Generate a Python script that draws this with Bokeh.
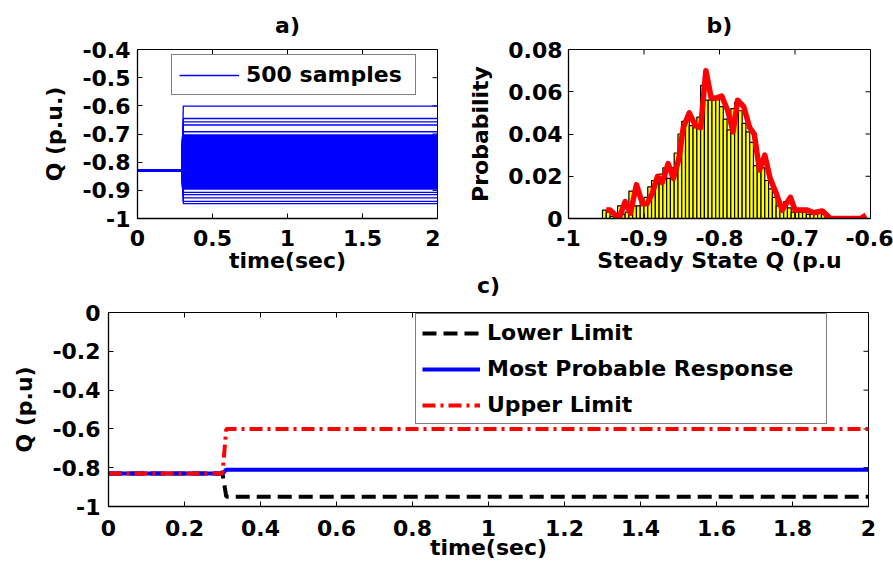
import numpy as np
from bokeh.plotting import figure
from bokeh.layouts import column, row
from bokeh.models import (FixedTicker, CustomJSTickFormatter, Range1d,
                          Legend, LegendItem)
from bokeh.embed import file_html
from bokeh.resources import INLINE

FONT = "DejaVu Sans"
FS = "22px"

# ---------------- data: panel a ----------------
a_t = [0.0, 0.3, 0.305, 2.0]
a_q_initial = -0.83
a_q_outer = [-0.601, -0.645, -0.657, -0.668, -0.692, -0.704,
             -0.907, -0.915, -0.927, -0.939, -0.947]
a_xticks = [0, 0.5, 1, 1.5, 2]
a_yticks = [-1, -0.9, -0.8, -0.7, -0.6, -0.5, -0.4]

# ---------------- data: panel b ----------------
hist_start = -0.955
hist_width = 0.005
hist_prob = [0.004, 0.003, 0.001, 0.0, 0.006, 0.002, 0.003, 0.013, 0.006, 0.006,
             0.007, 0.010, 0.015, 0.018, 0.017, 0.021, 0.024, 0.019, 0.024, 0.031,
             0.040, 0.046, 0.047, 0.044, 0.043, 0.048, 0.063, 0.056, 0.056, 0.056,
             0.057, 0.053, 0.047, 0.042, 0.052, 0.055, 0.051, 0.045, 0.041, 0.036,
             0.025, 0.027, 0.024, 0.018, 0.014, 0.010, 0.006, 0.005, 0.008, 0.005,
             0.003, 0.003, 0.003, 0.003, 0.002, 0.002, 0.002, 0.003, 0.002, 0.001]
pdf_q = [-0.950, -0.945, -0.933, -0.925, -0.918, -0.910, -0.902, -0.896, -0.889, -0.882,
         -0.876, -0.868, -0.861, -0.854, -0.848, -0.840, -0.832, -0.825, -0.818, -0.811,
         -0.804, -0.797, -0.789, -0.782, -0.776, -0.768, -0.760, -0.754, -0.747, -0.740,
         -0.733, -0.725, -0.717, -0.706, -0.700, -0.684, -0.675, -0.664, -0.653, -0.613,
         -0.606]
pdf_p = [0.004, 0.004, 0.0, 0.008, 0.0025, 0.016, 0.007, 0.007, 0.012, 0.020,
         0.017, 0.026, 0.019, 0.028, 0.043, 0.050, 0.044, 0.043, 0.070, 0.057,
         0.057, 0.058, 0.051, 0.041, 0.056, 0.053, 0.043, 0.040, 0.023, 0.030,
         0.019, 0.012, 0.004, 0.010, 0.004, 0.004, 0.0027, 0.0036, 0.0, 0.0,
         0.0016]
b_xticks = [-1, -0.9, -0.8, -0.7, -0.6]
b_yticks = [0, 0.02, 0.04, 0.06, 0.08]

# ---------------- data: panel c ----------------
c_t = [0.0, 0.3, 0.31, 2.0]
c_lower = [-0.83, -0.83, -0.95, -0.95]
c_most = [-0.83, -0.83, -0.81, -0.81]
c_upper = [-0.83, -0.83, -0.60, -0.60]
c_xticks = [0, 0.2, 0.4, 0.6, 0.8, 1, 1.2, 1.4, 1.6, 1.8, 2]
c_yticks = [-1, -0.8, -0.6, -0.4, -0.2, 0]

FMT = "return Number(tick.toFixed(3)).toString();"


def make_fig(w, h, xr, yr, left, right, top, bottom, title, tstand):
    p = figure(width=w, height=h, x_range=Range1d(*xr), y_range=Range1d(*yr),
               output_backend="svg", toolbar_location=None,
               min_border_left=left, min_border_right=right,
               min_border_top=top, min_border_bottom=bottom, title=title)
    p.grid.visible = False
    p.outline_line_color = "black"
    p.outline_line_width = 1
    p.title.align = "center"
    p.title.vertical_align = "middle"
    p.title.text_font = FONT
    p.title.text_font_style = "bold"
    p.title.text_font_size = FS
    p.title.text_color = "black"
    p.title.standoff = tstand
    return p


def style_axis(ax, ticks, label, lab_standoff, ax_standoff):
    ax.ticker = FixedTicker(ticks=ticks)
    ax.formatter = CustomJSTickFormatter(code=FMT)
    ax.axis_label = label
    ax.axis_line_color = "black"
    ax.axis_line_width = 1.3
    ax.major_tick_in = 5
    ax.major_tick_out = 0
    ax.major_tick_line_color = "black"
    ax.minor_tick_line_color = None
    ax.major_label_text_font = FONT
    ax.major_label_text_font_style = "bold"
    ax.major_label_text_font_size = FS
    ax.major_label_text_color = "black"
    ax.major_label_standoff = lab_standoff
    ax.axis_label_text_font = FONT
    ax.axis_label_text_font_style = "bold"
    ax.axis_label_text_font_size = FS
    ax.axis_label_text_color = "black"
    ax.axis_label_standoff = ax_standoff


def inner_ticks(p, xticks, yticks, xr, yr, fw, fh, ln=5):
    dy = (yr[1] - yr[0]) * ln / fh
    dx = (xr[1] - xr[0]) * ln / fw
    p.segment(x0=xticks, y0=[yr[1]] * len(xticks), x1=xticks,
              y1=[yr[1] - dy] * len(xticks), line_color="black", line_width=1)
    p.segment(x0=[xr[1]] * len(yticks), y0=yticks, x1=[xr[1] - dx] * len(yticks),
              y1=yticks, line_color="black", line_width=1)


def style_legend(leg, gw, lw, pad, sp):
    leg.label_text_font = FONT
    leg.label_text_font_style = "bold"
    leg.label_text_font_size = FS
    leg.label_text_color = "black"
    leg.border_line_color = "black"
    leg.border_line_width = 1.3
    leg.background_fill_color = "white"
    leg.background_fill_alpha = 1
    leg.glyph_width = gw
    leg.label_width = lw
    leg.margin = 0
    leg.padding = pad
    leg.spacing = sp
    leg.label_standoff = 7


# ---------------- panel a ----------------
a_xr, a_yr = (0, 2), (-1, -0.4)
pa = make_fig(440, 280, a_xr, a_yr, 137, 3, 49, 61, "a)", 21)
style_axis(pa.xaxis[0], a_xticks, "time(sec)", 11, -1)
style_axis(pa.yaxis[0], a_yticks, "Q (p.u.)", 7, 12)
inner_ticks(pa, a_xticks, a_yticks, a_xr, a_yr, 300, 170)

edges = [hist_start + hist_width * i for i in range(len(hist_prob) + 1)]
centers = [(edges[i] + edges[i + 1]) / 2 for i in range(len(hist_prob))]
a_band = [c for c in centers if -0.895 <= c <= -0.705]
ra = pa.multi_line([a_t for _ in a_q_outer],
                   [[a_q_initial, a_q_initial, q, q] for q in a_q_outer],
                   line_color="#0000FF", line_width=1.3)
pa.multi_line([a_t for _ in a_band],
              [[a_q_initial, a_q_initial, q, q] for q in a_band],
              line_color="#0000FF", line_width=3)
leg_a = Legend(items=[LegendItem(label="500 samples", renderers=[ra])],
               location=(34, 123))
style_legend(leg_a, 60, 162, 7, 0)
pa.add_layout(leg_a)

# ---------------- panel b ----------------
b_xr, b_yr = (-1, -0.6), (0, 0.08)
pb = make_fig(453, 280, b_xr, b_yr, 128, 23, 49, 62, "b)", 21)
style_axis(pb.xaxis[0], b_xticks, "Steady State Q (p.u", 11, -1)
style_axis(pb.yaxis[0], b_yticks, "Probability", 6, 12)
inner_ticks(pb, b_xticks, b_yticks, b_xr, b_yr, 302, 169)
pb.quad(left=edges[:-1], right=edges[1:], bottom=0, top=hist_prob,
        fill_color="#FFFF00", line_color="black", line_width=1.2)
pb.line(pdf_q, pdf_p, line_color="#FF0000", line_width=5.5, line_join="round")

# ---------------- panel c ----------------
c_xr, c_yr = (0, 2), (-1, 0)
pc = make_fig(893, 313, c_xr, c_yr, 108, 25, 56, 63, "c)", 28)
pc.border_fill_alpha = 0
pc.margin = (-24, 0, 0, 0)
style_axis(pc.xaxis[0], c_xticks, "time(sec)", 13, -4)
style_axis(pc.yaxis[0], c_yticks, "Q (p.u)", 8, 12)
inner_ticks(pc, c_xticks, c_yticks, c_xr, c_yr, 760, 194)
r_low = pc.line(c_t, c_lower, line_color="black", line_width=4, line_dash="14 7")
r_mid = pc.line(c_t, c_most, line_color="#0000FF", line_width=4)
r_up = pc.line(c_t, c_upper, line_color="#FF0000", line_width=4, line_dash="13 5 3 5")
leg_c = Legend(items=[LegendItem(label="Lower Limit", renderers=[r_low]),
                      LegendItem(label="Most Probable Response", renderers=[r_mid]),
                      LegendItem(label="Upper Limit", renderers=[r_up])],
               location=(307, 82))
style_legend(leg_c, 58, 333, 6, 11)
pc.add_layout(leg_c)

layout = column(row(pa, pb), pc)
open("out.html", "w").write(file_html(layout, INLINE))
